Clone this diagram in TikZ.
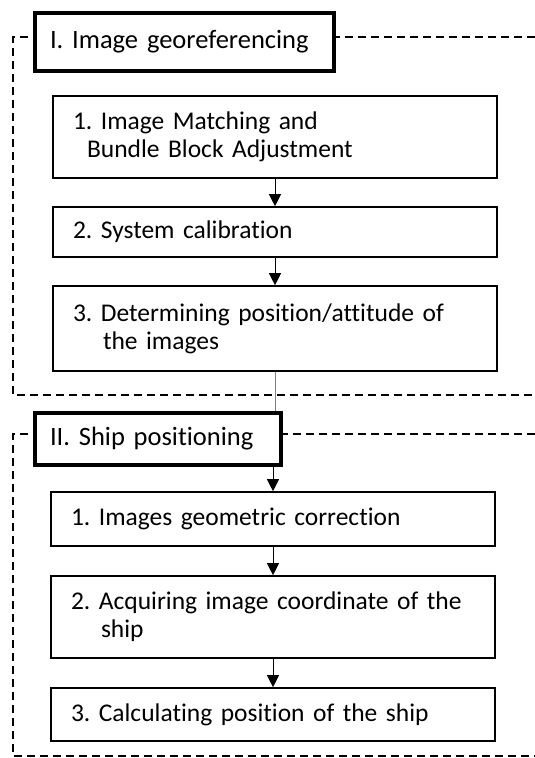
\documentclass[tikz,border=0pt]{standalone}
\usepackage{fontspec}
\setmainfont{Carlito}[Ligatures=CommonOff]
\usepackage{xcolor}
\usetikzlibrary{arrows.meta,positioning}

\tikzset{
  stepbox/.style={draw, line width=1.6pt, fill=white, text width=404pt,
    inner xsep=20pt, align=left, font=\fontsize{25.5}{28}\selectfont},
  titlebox/.style={draw, line width=3.2pt, fill=white, align=left,
    inner xsep=15pt, font=\fontsize{26.5}{28}\selectfont},
  group/.style={dash pattern=on 8pt off 5pt, line width=1.6pt},
  flow/.style={-{Triangle[width=12pt,length=12pt]}, line width=0.9pt}
}

\begin{document}
\frenchspacing
\begin{tikzpicture}[x=1pt, y=-1pt]
  \useasboundingbox (0,0) rectangle (535,758);

  % dashed frames of the two stages
  \draw[group] (535,37) -- (13,37) -- (13,395) -- (535,395);
  \draw[group] (535,434) -- (13,434) -- (13,756) -- (535,756);

  % stage I
  \node[titlebox, text width=269pt, minimum height=58pt] (geo) at (184.5,42)
    {I. Image georeferencing};
  \node[stepbox, minimum height=82pt] (match) at (275,137)
    {1. Image Matching and\\\hspace*{14pt}Bundle Block Adjustment};
  \node[stepbox, minimum height=50pt] (calib) at (275,232)
    {2. System calibration};
  \node[stepbox, minimum height=85pt] (attitude) at (275,328.5)
    {3. Determining position/attitude of\\\hspace*{30pt}the images};

  % stage II
  \node[titlebox, text width=216pt, minimum height=52pt] (ship) at (158,439)
    {II. Ship positioning};
  \node[stepbox, minimum height=54pt] (correct) at (273,519)
    {1. Images geometric correction};
  \node[stepbox, minimum height=82pt] (acquire) at (273,617)
    {2. Acquiring image coordinate of the\\\hspace*{30pt}ship};
  \node[stepbox, minimum height=53pt] (calc) at (273,714.5)
    {3. Calculating position of the ship};

  \draw[flow] (match) -- (calib);
  \draw[flow] (calib) -- (attitude);
  \draw[gray, line width=0.9pt] (attitude.south) -- (attitude.south |- ship.north);
  \draw[flow] (ship.south -| correct.north) -- (correct);
  \draw[flow] (correct) -- (acquire);
  \draw[flow] (acquire) -- (calc);
\end{tikzpicture}
\end{document}
